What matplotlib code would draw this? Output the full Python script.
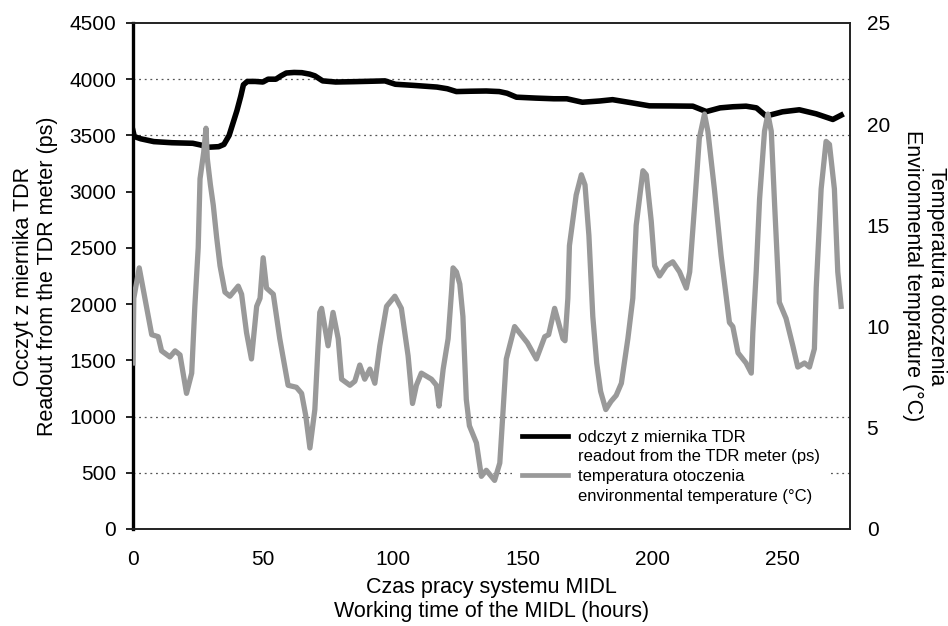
import matplotlib
matplotlib.use("Agg")
import matplotlib.pyplot as plt
from matplotlib.lines import Line2D

plt.rcParams['font.family'] = ['Liberation Sans', 'DejaVu Sans']

# ---- data: TDR readout (ps) ----
tdr_t = [0, 0.5, 3, 8, 15, 23, 26, 29, 33, 35, 37, 38.5, 40, 41.5, 42.5, 44, 47, 50, 52, 55,
         57, 59, 62, 65, 68, 70, 73, 78, 85, 92, 97, 101, 108, 117, 121, 124.5, 130, 136,
         141, 144, 147.6, 155, 162, 167, 173, 179.6, 184.6, 192, 198.8, 207, 215.5, 220.7,
         226, 231, 236, 240, 243.7, 250, 256.5, 263, 269.4, 272.6]
tdr_v = [3540, 3490, 3470, 3445, 3435, 3430, 3415, 3395, 3400, 3420, 3500, 3610, 3720, 3850,
         3950, 3980, 3980, 3975, 4000, 4000, 4030, 4055, 4060, 4058, 4045, 4030, 3985, 3975,
         3978, 3982, 3985, 3955, 3945, 3930, 3915, 3890, 3893, 3895, 3890, 3875, 3840, 3832,
         3826, 3826, 3795, 3806, 3818, 3790, 3763, 3762, 3760, 3712, 3745, 3755, 3760, 3745,
         3672, 3710, 3728, 3692, 3642, 3680]

# ---- data: environmental temperature (deg C) ----
temp_t = [0, 0.3, 2.4, 4.6, 7.2, 9.7, 11, 14.2, 16.2, 18.1, 20.6, 22.6, 23.8, 25.1, 25.8,
          27.2, 28.1, 28.6, 29.8, 30.9, 32.2, 33.5, 35.4, 37.3, 40.5, 41.8, 43.7, 45.6, 47.6,
          48.9, 50.1, 51.4, 54, 56.5, 59.7, 62.9, 64.9, 66.5, 68.1, 70, 71.9, 72.6, 75.1, 77,
          79, 80.3, 83.5, 85.4, 87.3, 89.2, 91.2, 93.1, 95, 97.6, 100.8, 103.3, 105.9, 107.6,
          109.1, 111, 114.9, 116.8, 117.8, 119.4, 121.3, 122.6, 123.2, 124.5, 125.8, 127,
          128.3, 129.5, 132.2, 134.1, 136, 139.2, 141.2, 143.7, 146.9, 151.8, 155.3, 158.5,
          160, 162.3, 165.5, 166.3, 167.4, 168, 170.6, 172.6, 174, 175.5, 177, 178.5, 180,
          182, 184, 186, 188, 190.5, 192.4, 193.7, 196.3, 197.6, 199.5, 200.8, 202.7, 205.3,
          207.8, 210.4, 213, 214.3, 216.2, 218, 220, 221.3, 223.8, 226.4, 229.6, 230.9,
          232.9, 236, 238, 238.6, 239.9, 241.2, 243.1, 244.4, 245.7, 247, 248.8, 251.4, 254,
          255.9, 258.5, 260.4, 262.3, 263, 264.9, 266.8, 268.1, 270, 271.3, 272.6]
temp_v = [8.2, 11.4, 12.9, 11.4, 9.6, 9.5, 8.8, 8.5, 8.8, 8.6, 6.7, 7.7, 11.0, 13.9, 17.3,
          18.6, 19.8, 18.3, 17.0, 16.0, 14.4, 13.0, 11.7, 11.5, 12.0, 11.6, 9.7, 8.4, 11.0,
          11.4, 13.4, 11.9, 11.6, 9.4, 7.1, 7.0, 6.7, 5.6, 4.0, 5.9, 10.7, 10.9, 9.05, 10.7,
          9.4, 7.4, 7.1, 7.3, 8.1, 7.4, 7.9, 7.2, 9.05, 11.0, 11.5, 10.9, 8.55, 6.2,
          7.1, 7.7, 7.4, 7.1, 6.07, 7.9, 9.4, 11.7, 12.9, 12.7, 12.1, 10.5,
          6.4, 5.1, 4.25, 2.6, 2.9, 2.4, 3.26, 8.4, 10.0, 9.2, 8.4, 9.5,
          9.6, 10.9, 9.4, 9.3, 11.4, 14.0, 16.5, 17.5, 17.0, 14.5, 10.5, 8.2, 6.8,
          5.9, 6.3, 6.6, 7.2, 9.4, 11.4, 15.0, 17.7, 17.5, 15.2, 13.0, 12.5, 13.0,
          13.2, 12.7, 11.9, 12.7, 16.0, 19.3, 20.5, 19.65, 16.8, 13.5, 10.2, 10.0,
          8.7, 8.2, 7.7, 9.7, 12.7, 16.3, 19.65, 20.5, 19.65, 16.0, 11.2, 10.4, 9.05,
          8.0, 8.2, 8.0, 8.9, 11.9, 16.8, 19.15, 19.0, 16.8, 12.7, 11.0]

grid_levels = [500, 1000, 3500, 4000]
left_ticks = list(range(0, 4501, 500))
right_ticks = [0, 5, 10, 15, 20, 25]
x_ticks = [0, 50, 100, 150, 200, 250]
x_marks = [0, 100, 200]

fig = plt.figure(figsize=(9.48, 6.26), dpi=100)
ax = fig.add_axes([0.1403, 0.1550, 0.7563, 0.8083])
ax2 = ax.twinx()

for g in grid_levels:
    ax.axhline(g, color='#555555', lw=0.9, ls=(0, (1.5, 3)), zorder=1)

l1, = ax.plot(tdr_t, tdr_v, color='#000000', lw=4.0, solid_joinstyle='round', zorder=3)
l2, = ax2.plot(temp_t, temp_v, color='#999999', lw=3.8, solid_joinstyle='round', zorder=3)

ax.set_xlim(0, 276)
ax.set_ylim(0, 4500)
ax2.set_ylim(0, 25)

ax.set_yticks(left_ticks)
ax.set_xticks(x_ticks)
ax.set_xticks(x_marks, minor=True)
ax2.set_yticks(right_ticks)

ax.tick_params(axis='y', labelsize=15, length=5, width=1.2, pad=7, direction='out')
ax.tick_params(axis='x', which='major', labelsize=15, length=0, pad=15)
ax.tick_params(axis='x', which='minor', length=5, width=1.0, direction='out')
ax2.tick_params(axis='y', labelsize=15, length=0, pad=12)

for a in (ax, ax2):
    for s in a.spines.values():
        s.set_linewidth(1.2)
        s.set_color('#222222')
ax.spines['left'].set_linewidth(2.4)
ax.spines['left'].set_color('#000000')
ax2.spines['left'].set_visible(False)

ax.set_xlabel("Czas pracy systemu MIDL\nWorking time of the MIDL (hours)", fontsize=15.5,
              linespacing=1.2, va='top')
ax.xaxis.set_label_coords(0.5, -0.095)
ax.set_ylabel("Occzyt z miernika TDR\nReadout from the TDR meter (ps)", fontsize=15.5,
              linespacing=1.2)
ax.yaxis.set_label_coords(-0.104, 0.5)
ax2.set_ylabel("Temperatura otoczenia\nEnvironmental temprature (°C)", fontsize=15.5,
               rotation=270, va='bottom', linespacing=1.2)
ax2.yaxis.set_label_coords(1.072, 0.5)

blank = Line2D([], [], color='none')
leg = ax2.legend([l1, blank, l2, blank],
                 ["odczyt z miernika TDR", "readout from the TDR meter (ps)",
                  "temperatura otoczenia", "environmental temperature (°C)"],
                 loc='lower right', bbox_to_anchor=(0.972, 0.03), fontsize=12,
                 frameon=True, fancybox=False, edgecolor='none', facecolor='white',
                 framealpha=1.0, handlelength=2.75, handletextpad=0.6,
                 labelspacing=0.28, borderpad=0.6, borderaxespad=0.0)
for h in leg.legend_handles:
    h.set_linewidth(3.4)

fig.savefig("out.png", dpi=100, facecolor='white')
